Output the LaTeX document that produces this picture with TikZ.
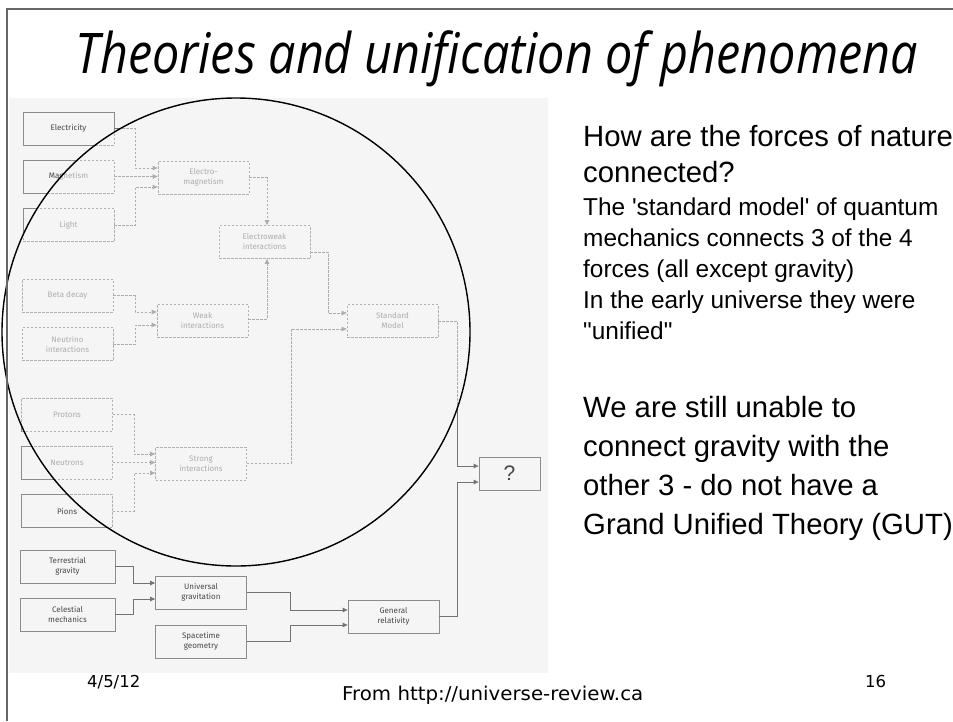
\documentclass[tikz,border=0pt]{standalone}
\usepackage{fontspec}
\setmainfont{Liberation Sans}
\newfontfamily\rtfont{Liberation Sans}[Ligatures=TeXOff]
\newfontfamily\titlefont{Open Sans}
\newfontfamily\boxfont{Fira Sans}
\newfontfamily\footfont{DejaVu Sans}
\usetikzlibrary{arrows.meta,calc}

\tikzset{
  box/.style={minimum width=91pt, minimum height=33pt, inner sep=0pt, align=center,
    font=\boxfont\fontsize{8}{10}\selectfont},
  solidlook/.style={
    bx/.style={box, draw=black!45, line width=0.8pt, text=black!72},
    cn/.style={draw=black!55, line width=0.8pt, -{Triangle[length=5pt,width=4.5pt]}}},
  fadedlook/.style={
    bx/.style={box, draw=black!30, line width=0.7pt, dash pattern=on 2.5pt off 1.5pt, text=black!32},
    cn/.style={draw=black!32, line width=0.7pt, dash pattern=on 2.5pt off 1.5pt, -{Triangle[length=5pt,width=4.5pt]}}},
  bigtxt/.style={anchor=base west, inner sep=0pt, font=\rtfont\fontsize{29.3}{35}\selectfont},
  smalltxt/.style={anchor=base west, inner sep=0pt, font=\rtfont\fontsize{24.4}{29}\selectfont},
}

\newcommand\flowchart{%
  \node[bx] (elec) at (68.5,128.5) {Electricity};
  \node[bx] (magn) at (68.5,176.5) {Magnetism};
  \node[bx] (light) at (68.5,225) {Light};
  \node[bx] (em) at (203.5,177.5) {Electro-\\magnetism};
  \node[bx] (ew) at (264.5,242) {Electroweak\\interactions};
  \node[bx] (beta) at (67.5,295.5) {Beta decay};
  \node[bx] (weak) at (202.5,320.5) {Weak\\interactions};
  \node[bx] (nint) at (67.5,344) {Neutrino\\interactions};
  \node[bx] (sm) at (392.5,321) {Standard\\Model};
  \node[bx] (prot) at (67,414.5) {Protons};
  \node[bx] (neutr) at (67,462.5) {Neutrons};
  \node[bx] (pions) at (67,511) {Pions};
  \node[bx] (strong) at (201,463.5) {Strong\\interactions};
  \node[bx, minimum width=95pt] (terr) at (67.5,566.5) {Terrestrial\\gravity};
  \node[bx, minimum width=95pt] (cel) at (67.5,614.5) {Celestial\\mechanics};
  \node[bx] (ug) at (201,592.5) {Universal\\gravitation};
  \node[bx] (st) at (201,641.5) {Spacetime\\geometry};
  \node[bx] (gr) at (393.5,616.5) {General\\relativity};
  \node[bx, minimum width=61pt, font=\fontsize{21}{24}\selectfont] (q) at (509.5,473.5) {?};
  % connectors
  \draw[cn] (elec.east) -- ++(21,0) |- ($(em.west)+(0,-9.5)$);
  \draw[cn] (magn.east) -- (magn.east -| em.west);
  \draw[cn] (light.east) -- ++(21,0) |- ($(em.west)+(0,9.5)$);
  \draw[cn] (em.east) -| ($(ew.north)+(2.5,0)$);
  \draw[cn] ($(weak.east)+(0,-1.5)$) -| ($(ew.south)+(2.5,0)$);
  \draw[cn] (beta.east) -- ++(22,0) |- ($(weak.west)+(0,-8.5)$);
  \draw[cn] (nint.east) -- ++(22,0) |- ($(weak.west)+(0,4.5)$);
  \draw[cn] ($(ew.east)+(0,10)$) -- ++(18,0) |- ($(sm.west)+(0,-8)$);
  \draw[cn] (strong.east) -- ++(44,0) |- ($(sm.west)+(0,8)$);
  \draw[cn] (prot.east) -- ++(21,0) |- ($(strong.west)+(0,-9.5)$);
  \draw[cn] (neutr.east) -- (neutr.east -| strong.west);
  \draw[cn] (pions.east) -- ++(21,0) |- ($(strong.west)+(0,9.5)$);
  \draw[cn] (sm.east) -- ++(19,0) |- ($(q.west)+(0,-7.5)$);
  \draw[cn] (gr.east) -- ++(18,0) |- ($(q.west)+(0,8.5)$);
  \draw[cn] (terr.east) -- ++(18,0) |- ($(ug.west)+(0,-9.5)$);
  \draw[cn] (cel.east) -- ++(18,0) |- ($(ug.west)+(0,6.5)$);
  \draw[cn] (ug.east) -- ++(43,0) |- ($(gr.west)+(0,-6.5)$);
  \draw[cn] (st.east) -- ++(43,0) |- ($(gr.west)+(0,8.5)$);
}

\begin{document}
\begin{tikzpicture}[x=1pt,y=-1pt]
\useasboundingbox (0,0) rectangle (953,721);
\fill[white] (0,0) rectangle (953,721);
% inset picture background
\fill[black!4] (9,98) rectangle (548,673);
% solid rendering (outside the circle)
\begin{scope}[solidlook]
  \flowchart
\end{scope}
% cover the circle area and draw the faded rendering inside it
\begin{scope}
  \clip (9,98) rectangle (548,673);
  \fill[black!4] (236,332) circle[radius=234];
\end{scope}
\begin{scope}
  \clip (236,332) circle[radius=234];
  \begin{scope}[fadedlook]
    \flowchart
  \end{scope}
\end{scope}
\draw[black, line width=1.4pt] (236,332) circle[radius=234];

% slide frame
\draw[black!60, line width=1.2pt] (7,721) -- (7,9) -- (953,9);

% title
\node[anchor=base, inner sep=0pt] (title) at (497,73)
  {\resizebox{842pt}{\height}{\titlefont\itshape\fontsize{56}{64}\selectfont Theories and unification of phenomena}};

% right-hand text
\node[bigtxt] (t1) at (583,146) {How are the forces of nature};
\node[bigtxt] (t2) at (583,182) {connected?};
\node[smalltxt] (t3) at (583,215) {The 'standard model' of quantum};
\node[smalltxt] (t4) at (583,246) {mechanics connects 3 of the 4};
\node[smalltxt] (t5) at (583,277) {forces (all except gravity)};
\node[smalltxt] (t6) at (583,308) {In the early universe they were};
\node[smalltxt] (t7) at (583,339) {"unified"};
\node[bigtxt] (t8) at (583,417) {We are still unable to};
\node[bigtxt] (t9) at (583,456) {connect gravity with the};
\node[bigtxt] (t10) at (583,495) {other 3 - do not have a};
\node[bigtxt] (t11) at (583,534) {Grand Unified Theory (GUT)};

% footer
\node[anchor=base west, inner sep=0pt, font=\footfont\fontsize{16.5}{20}\selectfont] (date) at (87,687) {4/5/12};
\node[anchor=base west, inner sep=0pt] (src) at (342,700)
  {\resizebox{301pt}{\height}{\footfont\fontsize{19}{22}\selectfont From http://universe-review.ca}};
\node[anchor=base west, inner sep=0pt, font=\footfont\fontsize{16.5}{20}\selectfont] (page) at (865,687) {16};
\end{tikzpicture}
\end{document}
